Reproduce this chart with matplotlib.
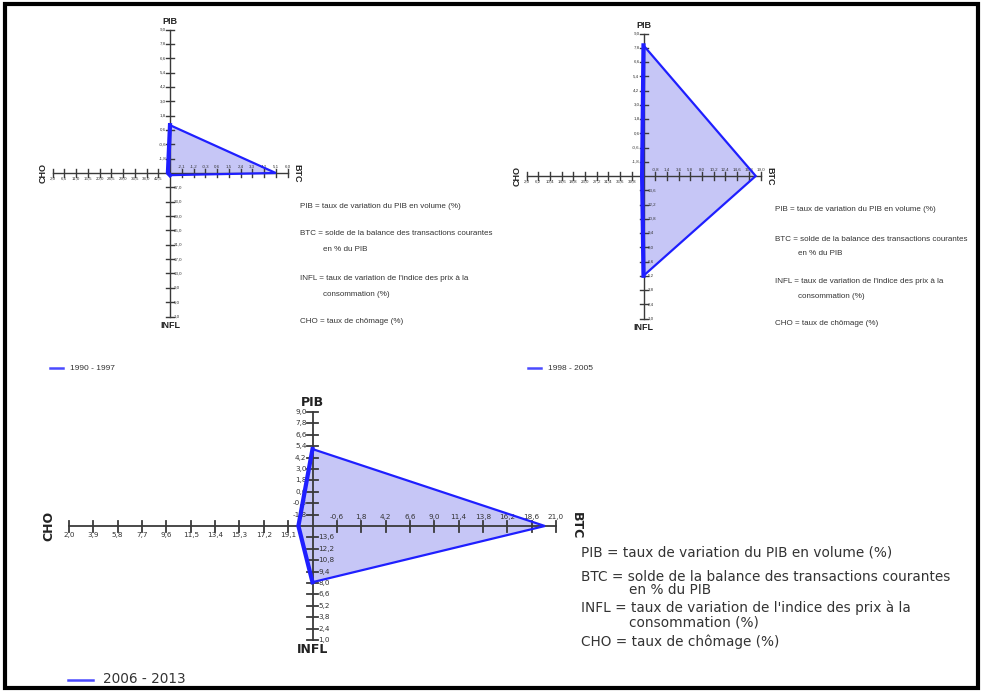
import matplotlib
matplotlib.use("Agg")
import matplotlib.pyplot as plt
from matplotlib import font_manager
from matplotlib.patches import Rectangle

# ---- fonts -------------------------------------------------------------
_names = {f.name for f in font_manager.fontManager.ttflist}
NARROW = "Liberation Sans Narrow" if "Liberation Sans Narrow" in _names else "Liberation Sans"
WIDE = "DejaVu Sans"

# ---- data --------------------------------------------------------------
periods = ["1990 - 1997", "1998 - 2005", "2006 - 2013"]
pib = [1.0, 8.0, 5.1]      # taux de variation du PIB en volume (%)
btc = [5.1, 18.1, 19.9]    # solde BTC en % du PIB
infl = [40.4, 5.2, 8.1]    # inflation (%)
cho = [46.2, 43.5, 19.9]   # taux de chômage (%)

# graduations of each axis, from the centre outwards
pib_ticks_1 = [-1.8, -0.6, 0.6, 1.8, 3.0, 4.2, 5.4, 6.6, 7.8, 9.0]
btc_ticks_1 = [-2.1, -1.2, -0.3, 0.6, 1.5, 2.4, 3.3, 4.2, 5.1, 6.0]
infl_ticks_1 = [37.0, 33.0, 29.0, 25.0, 21.0, 17.0, 13.0, 9.0, 5.0, 1.0]
cho_ticks_1 = [42.5, 38.0, 33.5, 29.0, 24.5, 20.0, 15.5, 11.0, 6.5, 2.0]

pib_ticks_2 = [-1.8, -0.6, 0.6, 1.8, 3.0, 4.2, 5.4, 6.6, 7.8, 9.0]
btc_ticks_2 = [-0.8, 1.4, 3.6, 5.8, 8.0, 10.2, 12.4, 14.6, 16.8, 19.0]
infl_ticks_2 = [13.6, 12.2, 10.8, 9.4, 8.0, 6.6, 5.2, 3.8, 2.4, 1.0]
cho_ticks_2 = [39.8, 35.6, 31.4, 27.2, 23.0, 18.8, 14.6, 10.4, 6.2, 2.0]

pib_ticks_3 = [-1.8, -0.6, 0.6, 1.8, 3.0, 4.2, 5.4, 6.6, 7.8, 9.0]
btc_ticks_3 = [-0.6, 1.8, 4.2, 6.6, 9.0, 11.4, 13.8, 16.2, 18.6, 21.0]
infl_ticks_3 = [13.6, 12.2, 10.8, 9.4, 8.0, 6.6, 5.2, 3.8, 2.4, 1.0]
cho_ticks_3 = [19.1, 17.2, 15.3, 13.4, 11.5, 9.6, 7.7, 5.8, 3.9, 2.0]

legend_lines = [
    ("PIB = taux de variation du PIB en volume (%)", False),
    ("BTC = solde de la balance des transactions courantes", False),
    ("en % du PIB", True),
    ("INFL = taux de variation de l'indice des prix à la", False),
    ("consommation (%)", True),
    ("CHO = taux de chômage (%)", False),
]

W, H = 982, 691
LINE = "#1f1fff"
FILL = "#c6c6f6"
AXIS = "#3a3a3a"

fig = plt.figure(figsize=(W / 100, H / 100), dpi=100)
fig.patch.set_facecolor("white")

bg = fig.add_axes([0, 0, 1, 1])
bg.set_xlim(0, W)
bg.set_ylim(H, 0)
bg.axis("off")
bg.add_patch(Rectangle((5, 4), 973, 684, fill=False, lw=3, ec="black"))


def fmt(v):
    return f"{v:.1f}".replace(".", ",")


def unit(v, ticks):
    """Position (in graduation steps) of a value on one axis."""
    step = ticks[1] - ticks[0]
    origin = ticks[0] - step
    return (v - origin) / step


def diamond(cx, cy, ux, uy, ticks, vals, st):
    L = 11.5
    ax = fig.add_axes([(cx - L * ux) / W, 1 - (cy + L * uy) / H,
                       2 * L * ux / W, 2 * L * uy / H])
    ax.set_xlim(-L, L)
    ax.set_ylim(-L, L)
    ax.axis("off")
    pt, bt, it, ct = ticks
    p, b, i, c = vals

    # polygon
    xs = [0, unit(b, bt), 0, -unit(c, ct)]
    ys = [unit(p, pt), 0, -unit(i, it), 0]
    ax.fill(xs, ys, color=FILL, zorder=1, lw=0)

    # axes with cross ticks
    ax.plot([-10, 10], [0, 0], color=AXIS, lw=st["alw"], zorder=2)
    ax.plot([0, 0], [-10, 10], color=AXIS, lw=st["alw"], zorder=2)
    tx = st["tick"] / ux
    ty = st["tick"] / uy
    ox = st["off"] / ux
    oy = st["off"] / uy
    tk = dict(fontsize=st["tfs"], family=st["tfam"], color="#333333",
              clip_on=False)
    for k in range(1, 11):
        ax.plot([-tx, tx], [k, k], color=AXIS, lw=st["alw"], zorder=2)
        ax.plot([-tx, tx], [-k, -k], color=AXIS, lw=st["alw"], zorder=2)
        ax.plot([k, k], [-ty, ty], color=AXIS, lw=st["alw"], zorder=2)
        ax.plot([-k, -k], [-ty, ty], color=AXIS, lw=st["alw"], zorder=2)
        ax.text(-ox, k, fmt(pt[k - 1]), ha="right", va="center", **tk)
        ax.text(ox, -k, fmt(it[k - 1]), ha="left", va="center", **tk)
        ax.text(k, oy, fmt(bt[k - 1]), ha="center", va="bottom", **tk)
        ax.text(-k, -oy, fmt(ct[k - 1]), ha="center", va="top", **tk)

    # outline
    ax.plot(xs + [xs[0]], ys + [ys[0]], color=LINE, lw=st["plw"], zorder=3,
            solid_joinstyle="miter")
    ax.plot([xs[0], xs[3], xs[2]], [ys[0], ys[3], ys[2]], color=LINE,
            lw=st["plw"] * 1.9, zorder=3)

    # axis names
    nm = dict(fontsize=st["nfs"], family=st["nfam"], weight="bold",
              color="#222222", clip_on=False)
    gv, gh = st["vgap"], st["hgap"]
    ax.text(0, 10 + gv / uy, "PIB", ha="center", va="bottom", **nm)
    ax.text(0, -10 - gv / uy, "INFL", ha="center", va="top", **nm)
    ax.text(10 + gh / ux, 0, "BTC", ha="left", va="center", rotation=270, **nm)
    ax.text(-10 - gh / ux, 0, "CHO", ha="right", va="center", rotation=90, **nm)
    return ax


small = dict(alw=1.0, tick=4, off=4, tfs=3.2, tfam=NARROW, plw=1.6,
             nfs=6.5, nfam=NARROW, vgap=4, hgap=5)
large = dict(alw=1.3, tick=5.5, off=6, tfs=5.2, tfam=WIDE, plw=1.6,
             nfs=9, nfam=WIDE, vgap=3, hgap=14)

diamond(170, 173, 11.75, 14.35,
        (pib_ticks_1, btc_ticks_1, infl_ticks_1, cho_ticks_1),
        (pib[0], btc[0], infl[0], cho[0]), small)
diamond(643.5, 176, 11.7, 14.25,
        (pib_ticks_2, btc_ticks_2, infl_ticks_2, cho_ticks_2),
        (pib[1], btc[1], infl[1], cho[1]), small)
diamond(312.5, 526, 24.35, 11.4,
        (pib_ticks_3, btc_ticks_3, infl_ticks_3, cho_ticks_3),
        (pib[2], btc[2], infl[2], cho[2]), large)


def notes(x, ys, indent, fs, fam):
    for (txt, ind), y in zip(legend_lines, ys):
        bg.text(x + (indent if ind else 0), y, txt, fontsize=fs, family=fam,
                color="#333333", va="center", ha="left")


notes(300, [206, 233, 249, 278, 294, 321], 23, 5.8, NARROW)
notes(775, [209, 239, 253, 281, 296, 323], 23, 5.8, NARROW)
notes(581, [552, 577, 590, 608, 622, 642], 48, 9.8, WIDE)

# period keys
bg.plot([50, 63], [368, 368], color="#4a4aff", lw=1.8)
bg.text(70, 368, periods[0], fontsize=6.0, family=NARROW, color="#333333",
        va="center")
bg.plot([528, 541], [368, 368], color="#4a4aff", lw=1.8)
bg.text(548, 368, periods[1], fontsize=6.0, family=NARROW, color="#333333",
        va="center")
bg.plot([68, 93], [680, 680], color="#4a4aff", lw=1.8)
bg.text(103, 679, periods[2], fontsize=9.8, family=WIDE, color="#333333",
        va="center")

fig.savefig("out.png", dpi=100)
